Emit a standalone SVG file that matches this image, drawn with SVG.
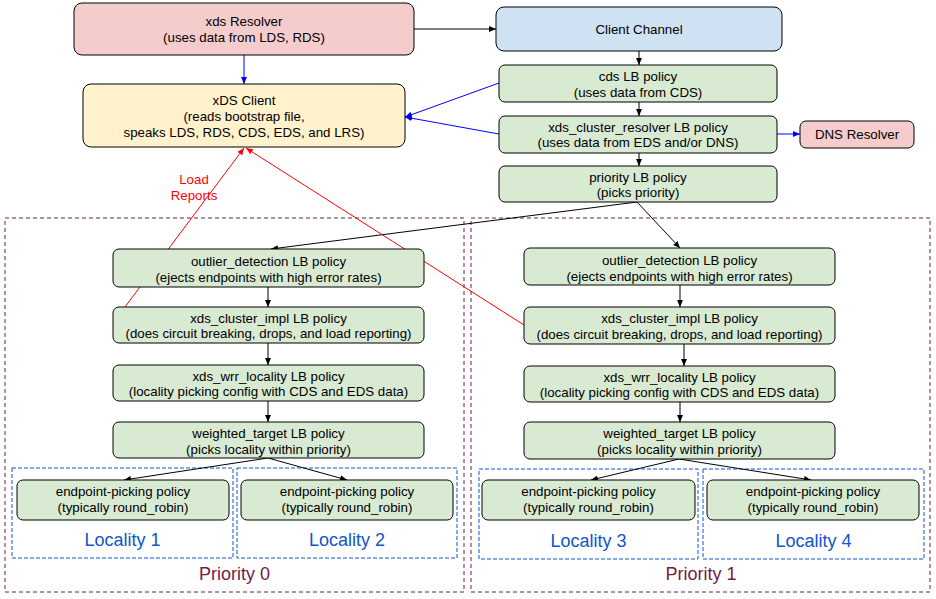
<svg xmlns="http://www.w3.org/2000/svg" width="936" height="599" viewBox="0 0 936 599">
<style>
text{font-family:"Liberation Sans",Arial,sans-serif;font-size:13.3px;fill:#000;text-anchor:middle}
.box{stroke:#000;stroke-width:1}
.g{fill:#d9ead3}
.pink{fill:#f4cccc}
.yel{fill:#fff2cc}
.blu{fill:#cfe2f3}
.prio{fill:none;stroke:#741b47;stroke-width:1;stroke-dasharray:4,3}
.loc{fill:none;stroke:#1155cc;stroke-width:1;stroke-dasharray:4,2}
.lbl-loc{font-size:18px;fill:#1155cc}
.lbl-prio{font-size:18px;fill:#741b47}
.k{stroke:#000;stroke-width:1;fill:none;marker-end:url(#ak)}
.b{stroke:#0000ff;stroke-width:1;fill:none;marker-end:url(#ab)}
.r{stroke:#ff0000;stroke-width:1;fill:none;marker-end:url(#ar)}
.red{fill:#ff0000}
</style>
<defs>
<marker id="ak" markerUnits="userSpaceOnUse" markerWidth="8" markerHeight="6" refX="7" refY="3" orient="auto"><path d="M0,0 L7,3 L0,6 z" fill="#000"/></marker>
<marker id="ab" markerUnits="userSpaceOnUse" markerWidth="8" markerHeight="6" refX="7" refY="3" orient="auto"><path d="M0,0 L7,3 L0,6 z" fill="#0000ff"/></marker>
<marker id="ar" markerUnits="userSpaceOnUse" markerWidth="8" markerHeight="6" refX="7" refY="3" orient="auto"><path d="M0,0 L7,3 L0,6 z" fill="#ff0000"/></marker>
</defs>
<rect width="936" height="599" fill="#fff"/>

<g id="priority0"><rect class="prio" x="5" y="218" width="459" height="374"/><text class="lbl-prio" x="234.5" y="580">Priority 0</text></g>
<g id="priority1"><rect class="prio" x="471" y="218" width="459" height="374"/><text class="lbl-prio" x="701" y="580">Priority 1</text></g>
<g id="locality1"><rect class="loc" x="12" y="468" width="221" height="90"/><text class="lbl-loc" x="122.5" y="546">Locality 1</text></g>
<g id="locality2"><rect class="loc" x="237" y="468" width="220" height="90"/><text class="lbl-loc" x="347" y="546">Locality 2</text></g>
<g id="locality3"><rect class="loc" x="479" y="469" width="219" height="90"/><text class="lbl-loc" x="588.5" y="547">Locality 3</text></g>
<g id="locality4"><rect class="loc" x="703" y="469" width="221" height="90"/><text class="lbl-loc" x="813.5" y="547">Locality 4</text></g>

<g id="connectors">
<line class="k" x1="414" y1="29" x2="496" y2="29"/>
<line class="k" x1="639" y1="51" x2="639" y2="65"/>
<line class="k" x1="639" y1="102" x2="639" y2="116"/>
<line class="k" x1="639" y1="153" x2="639" y2="166"/>
<line class="k" x1="637" y1="202" x2="271" y2="249"/>
<line class="k" x1="637" y1="202" x2="680" y2="248"/>
<line class="k" x1="268" y1="287" x2="268" y2="307"/>
<line class="k" x1="268" y1="343" x2="268" y2="365"/>
<line class="k" x1="268" y1="401" x2="268" y2="422"/>
<line class="k" x1="680" y1="285" x2="680" y2="307"/>
<line class="k" x1="684" y1="344" x2="684" y2="366"/>
<line class="k" x1="680" y1="402" x2="680" y2="422"/>
<line class="k" x1="268" y1="458" x2="124" y2="480"/>
<line class="k" x1="268" y1="458" x2="347" y2="480"/>
<line class="k" x1="679" y1="459" x2="591" y2="480"/>
<line class="k" x1="679" y1="459" x2="811" y2="480"/>
<line class="b" x1="244" y1="55" x2="244" y2="84"/>
<line class="b" x1="499" y1="83" x2="405" y2="117"/>
<line class="b" x1="499" y1="134" x2="405" y2="117"/>
<line class="b" x1="777" y1="134" x2="800" y2="134"/>
<line class="r" x1="113" y1="323" x2="244" y2="148"/>
<line class="r" x1="524" y1="325" x2="246" y2="148"/>
<text class="red" x="194" y="184">Load</text>
<text class="red" x="194" y="200">Reports</text>
</g>

<g id="xds-resolver"><rect class="box pink" x="74" y="3" width="340" height="52" rx="8"/><text x="244" y="26">xds Resolver</text><text x="244" y="42">(uses data from LDS, RDS)</text></g>
<g id="client-channel"><rect class="box blu" x="496" y="7" width="286" height="44" rx="8"/><text x="639" y="34">Client Channel</text></g>
<g id="xds-client"><rect class="box yel" x="83" y="84" width="322" height="63" rx="8"/><text x="244" y="105">xDS Client</text><text x="244" y="121">(reads bootstrap file,</text><text x="244" y="137">speaks LDS, RDS, CDS, EDS, and LRS)</text></g>
<g id="cds"><rect class="box g" x="499" y="65" width="278" height="37" rx="6"/><text x="638" y="81">cds LB policy</text><text x="638" y="97">(uses data from CDS)</text></g>
<g id="cluster-resolver"><rect class="box g" x="499" y="116" width="278" height="37" rx="6"/><text x="638" y="131.5">xds_cluster_resolver LB policy</text><text x="638" y="147">(uses data from EDS and/or DNS)</text></g>
<g id="priority"><rect class="box g" x="499" y="166" width="278" height="36" rx="6"/><text x="638" y="181.5">priority LB policy</text><text x="638" y="197">(picks priority)</text></g>
<g id="dns-resolver"><rect class="box pink" x="800" y="121" width="114" height="27" rx="6"/><text x="857" y="139">DNS Resolver</text></g>

<g id="outlier0"><rect class="box g" x="113" y="249" width="311" height="38" rx="6"/><text x="268.5" y="265.5">outlier_detection LB policy</text><text x="268.5" y="281.5">(ejects endpoints with high error rates)</text></g>
<g id="impl0"><rect class="box g" x="113" y="307" width="311" height="36" rx="6"/><text x="268.5" y="322.5">xds_cluster_impl LB policy</text><text x="268.5" y="338">(does circuit breaking, drops, and load reporting)</text></g>
<g id="wrr0"><rect class="box g" x="113" y="365" width="311" height="36" rx="6"/><text x="268.5" y="380.5">xds_wrr_locality LB policy</text><text x="268.5" y="396">(locality picking config with CDS and EDS data)</text></g>
<g id="wt0"><rect class="box g" x="113" y="422" width="311" height="36" rx="6"/><text x="268.5" y="438">weighted_target LB policy</text><text x="268.5" y="453.5">(picks locality within priority)</text></g>

<g id="outlier1"><rect class="box g" x="524" y="248" width="311" height="37" rx="6"/><text x="679.5" y="264.5">outlier_detection LB policy</text><text x="679.5" y="280.5">(ejects endpoints with high error rates)</text></g>
<g id="impl1"><rect class="box g" x="524" y="307" width="311" height="37" rx="6"/><text x="679.5" y="323">xds_cluster_impl LB policy</text><text x="679.5" y="339">(does circuit breaking, drops, and load reporting)</text></g>
<g id="wrr1"><rect class="box g" x="524" y="366" width="311" height="36" rx="6"/><text x="679.5" y="381.5">xds_wrr_locality LB policy</text><text x="679.5" y="397">(locality picking config with CDS and EDS data)</text></g>
<g id="wt1"><rect class="box g" x="524" y="422" width="311" height="37" rx="6"/><text x="679.5" y="438">weighted_target LB policy</text><text x="679.5" y="454">(picks locality within priority)</text></g>

<g id="ep1"><rect class="box g" x="17" y="480" width="212" height="40" rx="6"/><text x="123" y="496">endpoint-picking policy</text><text x="123" y="512">(typically round_robin)</text></g>
<g id="ep2"><rect class="box g" x="241" y="480" width="212" height="40" rx="6"/><text x="347" y="496">endpoint-picking policy</text><text x="347" y="512">(typically round_robin)</text></g>
<g id="ep3"><rect class="box g" x="482" y="480" width="213" height="40" rx="6"/><text x="588.5" y="496">endpoint-picking policy</text><text x="588.5" y="512">(typically round_robin)</text></g>
<g id="ep4"><rect class="box g" x="707" y="480" width="212" height="40" rx="6"/><text x="813" y="496">endpoint-picking policy</text><text x="813" y="512">(typically round_robin)</text></g>
</svg>
